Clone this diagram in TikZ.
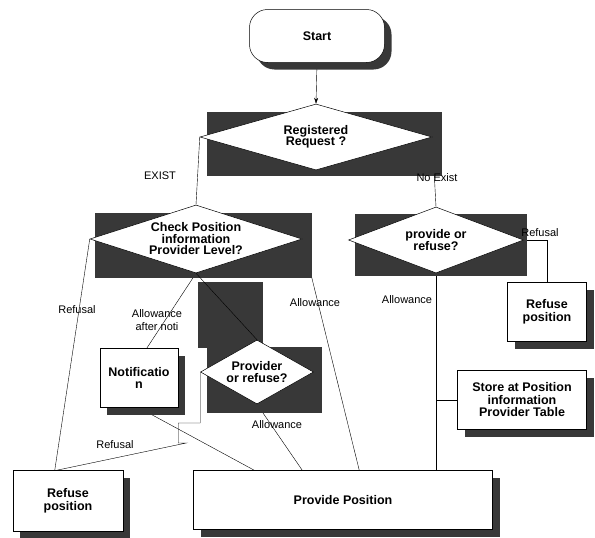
\documentclass[tikz,border=0pt]{standalone}
\usepackage{fontspec}
\setmainfont{Liberation Sans}
\usetikzlibrary{arrows.meta,positioning,calc,shapes.geometric,shadows}
\pgfdeclarelayer{bg}
\pgfdeclarelayer{mid}
\pgfsetlayers{bg,mid,main}

\begin{document}
\begin{tikzpicture}[x=1pt,y=-1pt,>={Stealth[length=6pt,width=4pt]},line width=.5pt,
  shade/.style={fill=black!78},
  box/.style={draw,fill=white,align=center,inner sep=1pt,
    font=\bfseries\fontsize{12.5}{12.5}\selectfont,
    drop shadow={shadow xshift=7pt,shadow yshift=-7pt,fill=black!78,opacity=1}},
  dia/.style={diamond,draw,fill=white,align=center,inner sep=-4pt,
    font=\bfseries\fontsize{12.5}{11.5}\selectfont},
  lbl/.style={font=\fontsize{11}{12.5}\selectfont,align=center}]
 \useasboundingbox (0,0) rectangle (595,538);

 \node[box,rounded corners=18pt,minimum width=135pt,minimum height=53pt] (start) at (317,36) {Start};
 \node[dia,aspect=3.5,minimum width=232pt,minimum height=66pt] (reg) at (316,137) {Registered\\Request ?};
 \node[dia,aspect=3.1,minimum width=212pt,minimum height=68pt] (check) at (196,239) {Check Position\\information\\Provider Level?};
 \node[dia,aspect=2.65,minimum width=175pt,minimum height=66pt] (provref) at (436,240) {provide or\\refuse?};
 \node[dia,aspect=1.77,minimum width=113pt,minimum height=64pt] (provref2) at (257,372) {Provider\\or refuse?};
 \node[box,minimum width=79pt,minimum height=59pt] (refR) at (547,312) {Refuse\\position};
 \node[box,minimum width=129pt,minimum height=59pt] (store) at (522,400) {Store at Position\\information\\Provider Table};
 \node[box,minimum width=78pt,minimum height=59pt] (notif) at (139,378) {Notificatio\\n};
 \node[box,minimum width=110pt,minimum height=61pt] (refL) at (68,501) {Refuse\\position};
 \node[box,minimum width=299pt,minimum height=59pt] (prov) at (343,500) {Provide Position};

 \begin{pgfonlayer}{mid}
 \fill[shade] (207,112) rectangle (442,176);
 \fill[shade] (95,213) rectangle (312,278);
 \fill[shade] (355,214) rectangle (527,276);
 \fill[shade] (198,282) rectangle (263,348);
 \fill[shade] (207,347) rectangle (322,413);
 \end{pgfonlayer}

 \begin{pgfonlayer}{bg}
 \draw[->] (start.south) -- (reg.north);
 \draw (reg.west) -- (check.north);
 \draw (reg.east) -- (provref.north);
 \draw (provref.east) -| (refR.north);
 \draw (provref.south) -- (provref.south |- prov.north);
 \draw (provref.south |- store.west) -- (store.west);
 \draw (check.west) -- ([xshift=42pt]refL.north west);
 \draw (check.south) -- ([xshift=47pt]notif.north west);
 \draw (check.east) -- ([xshift=166pt]prov.north west);
 \draw (notif.south) -- ([xshift=61pt]prov.north west);
 \draw (provref2.south) -- ([xshift=109pt]prov.north west);
 \draw (provref2.west) -- ++(0,51) -- ++(-22,0) -- ++(0,20) -- ++(8,0) -- ([xshift=44pt]refL.north west);
 \end{pgfonlayer}
 \draw (check.south) -- (provref2.north);

 \node[lbl] (lexist) at (160,176) {EXIST};
 \node[lbl] (lnoexist) at (437,178) {No Exist};
 \node[lbl] (lrefR) at (540,233) {Refusal};
 \node[lbl] (lallowR) at (407,300) {Allowance};
 \node[lbl] (lrefL) at (77,310) {Refusal};
 \node[lbl] (lnoti) at (157,320) {Allowance\\after noti};
 \node[lbl] (lallowM) at (315,303) {Allowance};
 \node[lbl] (lallow4) at (277,425) {Allowance};
 \node[lbl] (lref4) at (115,445) {Refusal};
\end{tikzpicture}
\end{document}
